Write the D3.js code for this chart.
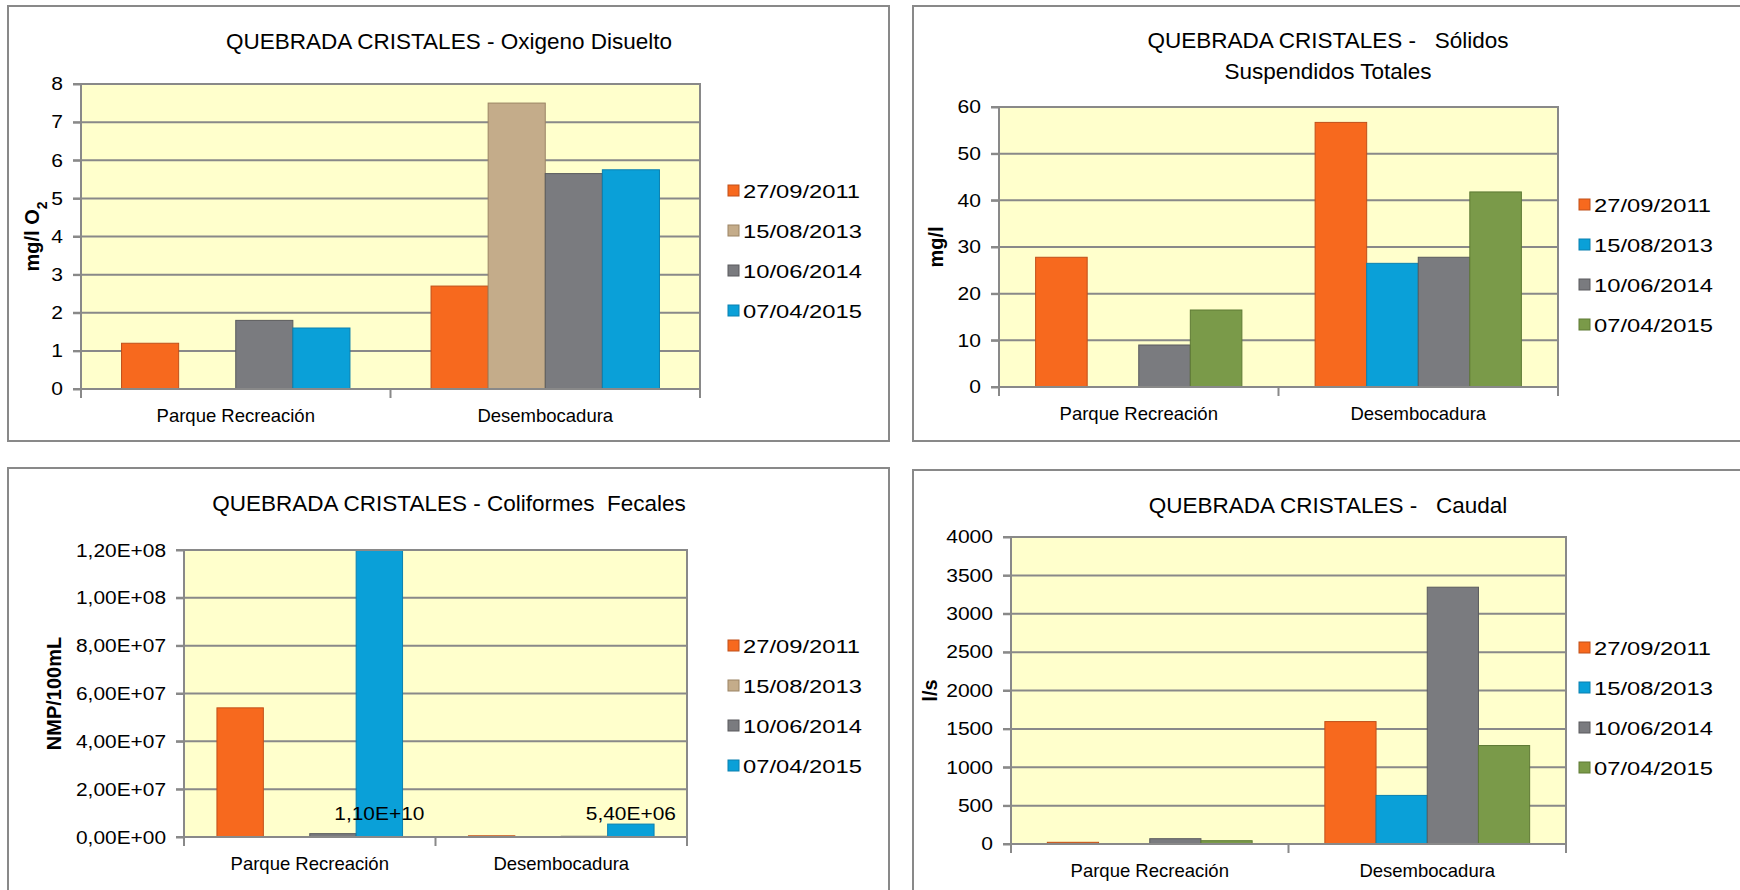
<!DOCTYPE html>
<html>
<head>
<meta charset="utf-8">
<script src="https://cdn.jsdelivr.net/npm/d3@7"></script>
<style>
  body{margin:0;background:#fff;}
  svg{display:block;font-family:"Liberation Sans",Arial,sans-serif;}
  .title{font-size:22.5px;white-space:pre;}
  .tick text{font-size:18px;fill:#000;}
  .cat{font-size:18.5px;}
  .legend text{font-size:19px;}
  .ylab{font-size:20px;font-weight:bold;}
  .dlabel{font-size:19px;}
</style>
</head>
<body>
<svg id="chart" width="1740" height="890"></svg>
<script>
const categories = ["Parque Recreación", "Desembocadura"];
const dates = ["27/09/2011", "15/08/2013", "10/06/2014", "07/04/2015"];

// colours by series
const colorsA = ["#f7691e", "#c4ac8a", "#7a7b7f", "#0aa0d8"];
const colorsB = ["#f7691e", "#0aa0d8", "#7a7b7f", "#7a9a49"];
const strokesA = ["#c0501a", "#9b8464", "#5a5b5e", "#0a80b0"];
const strokesB = ["#c0501a", "#0a80b0", "#5a5b5e", "#5e7a35"];

// values per category, one per date (null = no bar)
const oxigeno = [[1.2, null, 1.8, 1.6], [2.7, 7.5, 5.65, 5.75]];
const solidos = [[27.8, null, 9, 16.5], [56.7, 26.5, 27.8, 41.8]];
const coliformes = [[5.4e7, null, 1.4e6, 1.1e10], [5e5, null, 3e5, 5.4e6]];
const caudal = [[22, null, 69, 43], [1595, 633, 3346, 1283]];

const oxTicks = [0, 1, 2, 3, 4, 5, 6, 7, 8];
const solTicks = [0, 10, 20, 30, 40, 50, 60];
const colTicks = [0, 2e7, 4e7, 6e7, 8e7, 1e8, 1.2e8];
const cauTicks = [0, 500, 1000, 1500, 2000, 2500, 3000, 3500, 4000];

const colLabels = [{cat: 0, s: 3, text: "1,10E+10"}, {cat: 1, s: 3, text: "5,40E+06"}];

const sciFmt = v => {
  let [m, e] = v.toExponential(2).split("e");
  let sign = e[0] == "-" ? "-" : "+";
  e = e.replace(/[+-]/, "");
  if (e.length < 2) e = "0" + e;
  return m.replace(".", ",") + "E" + sign + e;
};

const svg = d3.select("#chart");
const grey = "#898989";
// the original font has wider figures than Arial
const numStretch = 1.17, legStretch = 1.25;

function drawPanel(p) {
  const g = svg.append("g");
  g.append("rect").attr("x", p.box[0]).attr("y", p.box[1]).attr("width", p.box[2]).attr("height", p.box[3])
   .attr("fill", "#fff").attr("stroke", grey).attr("stroke-width", 2);

  const w = p.plot.r - p.plot.l, h = p.plot.b - p.plot.t;
  const x0 = d3.scaleBand().domain(categories).range([p.plot.l, p.plot.r]);
  const x1 = d3.scaleBand().domain(d3.range(dates.length)).range([0, x0.bandwidth()])
               .paddingInner(0).paddingOuter(0.71);
  const y = d3.scaleLinear().domain([0, d3.max(p.ticks)]).range([p.plot.b, p.plot.t]).clamp(true);

  g.append("rect").attr("x", p.plot.l).attr("y", p.plot.t).attr("width", w).attr("height", h)
   .attr("fill", "#ffffcc");

  // gridlines
  g.append("g").selectAll("line").data(p.ticks).join("line")
   .attr("x1", p.plot.l - 8).attr("x2", p.plot.r)
   .attr("y1", d => y(d)).attr("y2", d => y(d))
   .attr("stroke", grey).attr("stroke-width", 2);

  // bars
  const rows = [];
  p.data.forEach((vals, ci) => vals.forEach((v, si) => { if (v != null) rows.push({cat: categories[ci], si, v}); }));
  g.append("g").selectAll("rect").data(rows).join("rect")
   .attr("x", d => x0(d.cat) + x1(d.si))
   .attr("y", d => y(d.v))
   .attr("width", x1.bandwidth())
   .attr("height", d => p.plot.b - y(d.v))
   .attr("fill", d => p.colors[d.si])
   .attr("stroke", d => p.strokes[d.si]).attr("stroke-width", 1);

  // plot border
  g.append("rect").attr("x", p.plot.l).attr("y", p.plot.t).attr("width", w).attr("height", h)
   .attr("fill", "none").attr("stroke", grey).attr("stroke-width", 2);

  // y axis
  const sx = p.tickStretch || numStretch;
  const ya = g.append("g").attr("transform", `translate(${p.plot.l},0)`)
    .call(d3.axisLeft(y).tickValues(p.ticks).tickSize(8).tickPadding(10).tickFormat(p.fmt || d3.format("d")));
  ya.select(".domain").remove();
  ya.selectAll(".tick line").attr("stroke", grey).attr("stroke-width", 2);
  ya.selectAll(".tick text").attr("x", -18 / sx).attr("transform", `scale(${sx},1)`);
  if (p.tickSize) ya.selectAll(".tick text").style("font-size", p.tickSize + "px");

  // x axis boundary ticks
  const bounds = categories.map(c => x0(c)).concat([p.plot.r]);
  g.append("g").selectAll("line").data(bounds).join("line")
   .attr("x1", d => d).attr("x2", d => d)
   .attr("y1", p.plot.b).attr("y2", p.plot.b + 9)
   .attr("stroke", grey).attr("stroke-width", 2);
  g.append("g").selectAll("text").data(categories).join("text")
   .attr("class", "cat").attr("text-anchor", "middle")
   .attr("x", d => x0(d) + x0.bandwidth() / 2).attr("y", p.plot.b + 33).text(d => d);

  // title
  g.append("text").attr("class", "title").attr("text-anchor", "middle")
   .selectAll("tspan").data(p.title).join("tspan")
   .attr("x", p.titleX).attr("y", (d, i) => p.titleY + i * 31).text(d => d);

  // y label
  const yl = g.append("text").attr("class", "ylab").attr("text-anchor", "middle")
    .attr("transform", `translate(${p.ylabX},${(p.plot.t + p.plot.b) / 2}) rotate(-90)`);
  yl.append("tspan").text(p.ylab);
  if (p.ysub) yl.append("tspan").attr("baseline-shift", "sub").style("font-size", "14px").text(p.ysub);

  // legend
  const lg = g.append("g").attr("class", "legend");
  lg.selectAll("rect").data(dates).join("rect")
    .attr("x", p.legX).attr("y", (d, i) => p.legY + i * 40 - 6).attr("width", 11).attr("height", 11)
    .attr("fill", (d, i) => p.colors[i]).attr("stroke", (d, i) => p.strokes[i]);
  lg.selectAll("text").data(dates).join("text")
    .attr("transform", (d, i) => `translate(${p.legX + 15},${p.legY + i * 40 + 7}) scale(${legStretch},1)`)
    .text(d => d);

  return {g, x0, x1, y};
}

drawPanel({box: [8, 6, 881, 435], plot: {l: 81, t: 84, r: 700, b: 389}, data: oxigeno, ticks: oxTicks,
  colors: colorsA, strokes: strokesA, title: ["QUEBRADA CRISTALES - Oxigeno Disuelto"], titleX: 449, titleY: 49,
  ylab: "mg/l O", ysub: "2", ylabX: 39, legX: 728, legY: 191});

drawPanel({box: [913, 6, 832, 435], plot: {l: 999, t: 107, r: 1558, b: 387}, data: solidos, ticks: solTicks,
  colors: colorsB, strokes: strokesB, title: ["QUEBRADA CRISTALES -   Sólidos", "Suspendidos Totales"], titleX: 1328, titleY: 48,
  ylab: "mg/l", ylabX: 943, legX: 1579, legY: 205});

const p3 = drawPanel({box: [8, 468, 881, 430], plot: {l: 184, t: 550, r: 687, b: 837}, data: coliformes, ticks: colTicks,
  colors: colorsA, strokes: strokesA, title: ["QUEBRADA CRISTALES - Coliformes  Fecales"], titleX: 449, titleY: 511,
  ylab: "NMP/100mL", ylabX: 61, legX: 728, legY: 646, fmt: sciFmt, tickSize: 19, tickStretch: 1.1});

p3.g.append("g").selectAll("text").data(colLabels).join("text")
  .attr("class", "dlabel").attr("text-anchor", "middle")
  .attr("transform", d => `translate(${p3.x0(categories[d.cat]) + p3.x1(d.s) + p3.x1.bandwidth() / 2},${p3.y(5.4e6) - 4}) scale(1.1,1)`)
  .text(d => d.text);

drawPanel({box: [913, 470, 832, 430], plot: {l: 1011, t: 537, r: 1566, b: 844}, data: caudal, ticks: cauTicks,
  colors: colorsB, strokes: strokesB, title: ["QUEBRADA CRISTALES -   Caudal"], titleX: 1328, titleY: 513,
  ylab: "l/s", ylabX: 937, legX: 1579, legY: 648});
</script>
</body>
</html>
